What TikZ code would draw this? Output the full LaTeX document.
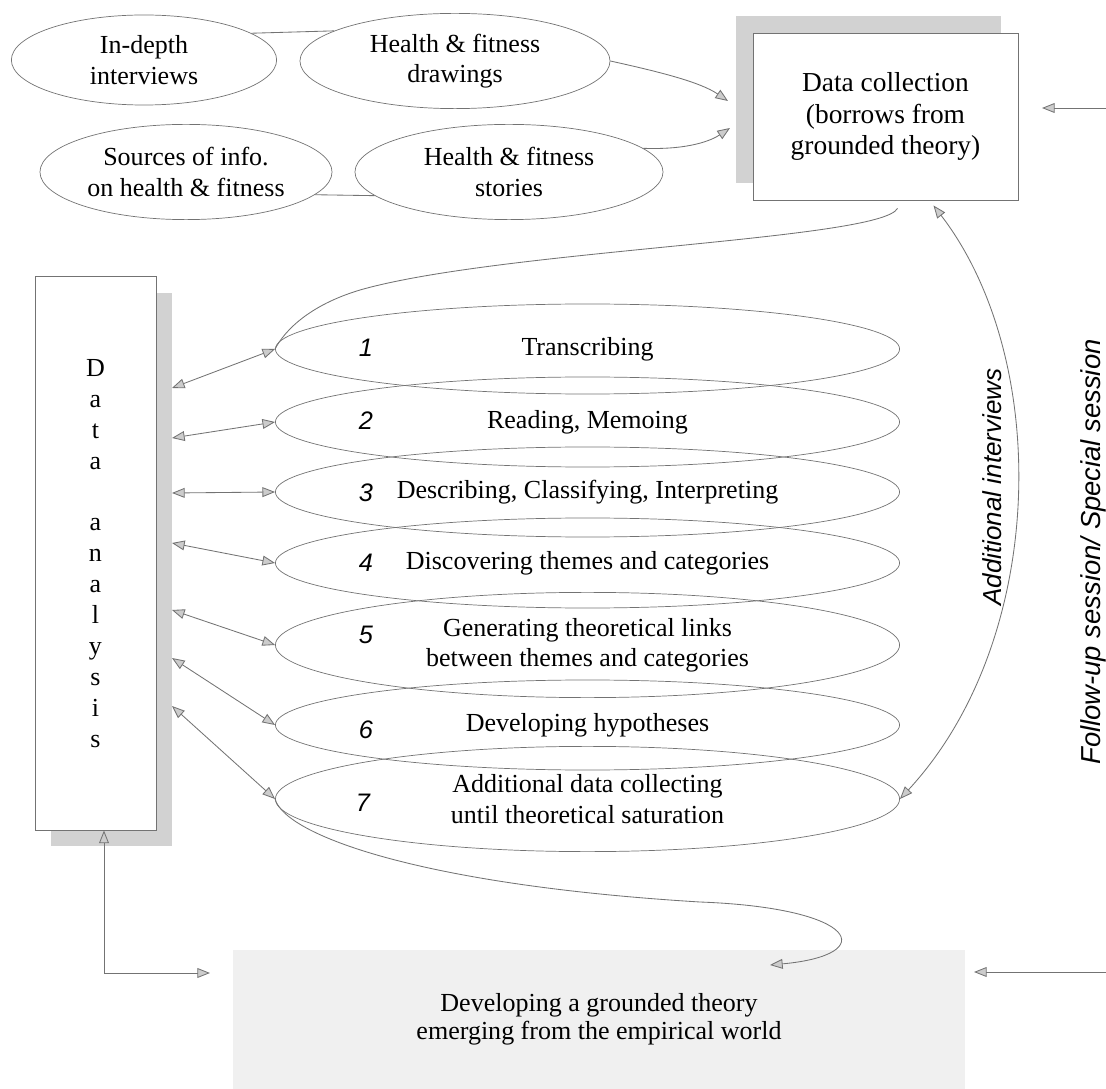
\documentclass[tikz,border=0pt]{standalone}
\usepackage{fontspec}
\setmainfont{Liberation Serif}
\newfontfamily\arialfont{Liberation Sans}
\usetikzlibrary{shapes.geometric,arrows.meta,shadows}

\begin{document}
\begin{tikzpicture}[x=0.025cm,y=-0.025cm,
  every node/.style={inner sep=0pt},
  >={Triangle[length=9pt,width=7pt,fill=gray!40]},
  link/.style={draw=black!55, line width=0.6pt},
  arr/.style={link,->},
  dblarr/.style={link,<->},
  source/.style={ellipse, draw=black!55, line width=0.5pt, align=center,
    font=\fontsize{18.5}{21.5}\selectfont, minimum height=2.38cm},
  stage/.style={ellipse, draw=black!55, line width=0.5pt, align=center,
    font=\fontsize{18.5}{21.5}\selectfont, minimum width=15.6cm, minimum height=2.25cm},
  stagenum/.style={font=\arialfont\itshape\fontsize{18}{20}\selectfont},
  sidelabel/.style={rotate=90, font=\arialfont\itshape\fontsize{19.5}{22}\selectfont},
  ]
\useasboundingbox (0,0) rectangle (1106,1089);

% sources of data
\node[source, minimum width=6.63cm, minimum height=2.25cm] (id) at (144,60) {In-depth\\interviews};
\node[source, minimum width=7.75cm] (hd) at (455,61) {Health \& fitness\\drawings};
\node[source, minimum width=7.3cm] (si) at (186,172) {Sources of info.\\on health \& fitness};
\node[source, minimum width=7.7cm] (hs) at (509,172) {Health \& fitness\\stories};

\node[draw=black!55, line width=0.5pt, fill=white, minimum width=6.63cm, minimum height=4.18cm,
  align=center, font=\fontsize{19.5}{22.5}\selectfont,
  drop shadow={shadow xshift=-0.425cm, shadow yshift=0.425cm, fill=gray!35, opacity=1}]
  (dc) at (885.5,116.5) {Data collection\\(borrows from\\grounded theory)};

\node[draw=black!55, line width=0.5pt, fill=white, minimum width=3.03cm, minimum height=13.83cm,
  align=center, font=\fontsize{18.5}{22}\selectfont,
  drop shadow={shadow xshift=0.4cm, shadow yshift=-0.4cm, fill=gray!35, opacity=1}]
  (da) at (95.5,553.5) {D\\a\\t\\a\\[22pt]a\\n\\a\\l\\y\\s\\i\\s};

% the seven stages
\node[stage] (s1) at (587.5,349) {Transcribing};
\node[stage] (s2) at (587.5,422) {Reading, Memoing};
\node[stage] (s3) at (587.5,492) {Describing, Classifying, Interpreting};
\node[stage] (s4) at (587.5,563) {Discovering themes and categories};
\node[stage, minimum height=2.63cm] (s5) at (587.5,645) {Generating theoretical links\\between themes and categories};
\node[stage] (s6) at (587.5,725) {Developing hypotheses};
\node[stage, minimum height=2.63cm] (s7) at (587.5,799) {Additional data collecting\\until theoretical saturation};

\node[stagenum] (n1) at (366,348) {1};
\node[stagenum] (n2) at (366,421) {2};
\node[stagenum] (n3) at (366,493) {3};
\node[stagenum] (n4) at (366,563) {4};
\node[stagenum] (n5) at (366,635) {5};
\node[stagenum] (n6) at (366,730) {6};
\node[stagenum] (n7) at (363,803) {7};

\node[fill=gray!12, minimum width=18.3cm, minimum height=3.48cm, align=center,
  font=\fontsize{18.5}{20}\selectfont] (dev) at (599,1019.5)
  {Developing a grounded theory\\emerging from the empirical world};

\node[sidelabel, font=\arialfont\itshape\fontsize{18.5}{22}\selectfont] (ai) at (992,487) {Additional interviews};
\node[sidelabel] (fu) at (1093,552) {Follow-up session/ Special session};

\coordinate (dcin1) at (728,101);
\coordinate (dcin2) at (730,128);
\coordinate (fuin) at (1106,108);
\coordinate (futip) at (1042,108);
\coordinate (fuout) at (1106,972);
\coordinate (devtip) at (974,972);
\coordinate (elbow) at (104,973);
\coordinate (devin) at (210,973);
\coordinate (devtop) at (770,965);

\draw[link] (id.14) -- (hd.166);
\draw[link] (si.-10) -- (hs.190);
\draw[arr] (hd.east) .. controls (660,72) and (700,82) .. (dcin1);
\draw[arr] (hs.10) .. controls (690,150) and (712,140) .. (dcin2);
\draw[arr] (fuin) -- (futip);
\draw[arr] (fuout) -- (devtip);

\draw[link] ([shift={(12,8)}]dc.south) .. controls (880,240) and (500,250) .. (360,290)
  .. controls (310,305) and (285,330) .. (s1.west);
\draw[dblarr] ([shift={(48,5)}]dc.south) .. controls (1052,360) and (1047,640) .. (s7.east);

\foreach \i/\y in {1/388,2/438,3/493,4/543,5/610,6/658,7/706} {
  \coordinate (d\i) at (172,\y);
  \draw[dblarr] (d\i) -- (s\i.west);
}

\draw[dblarr] (da.south -| elbow) -- (elbow) -- (devin);
\draw[arr] (s7.west) .. controls (285,835) and (420,885) .. (700,902)
  .. controls (860,908) and (880,955) .. (devtop);

\end{tikzpicture}
\end{document}
